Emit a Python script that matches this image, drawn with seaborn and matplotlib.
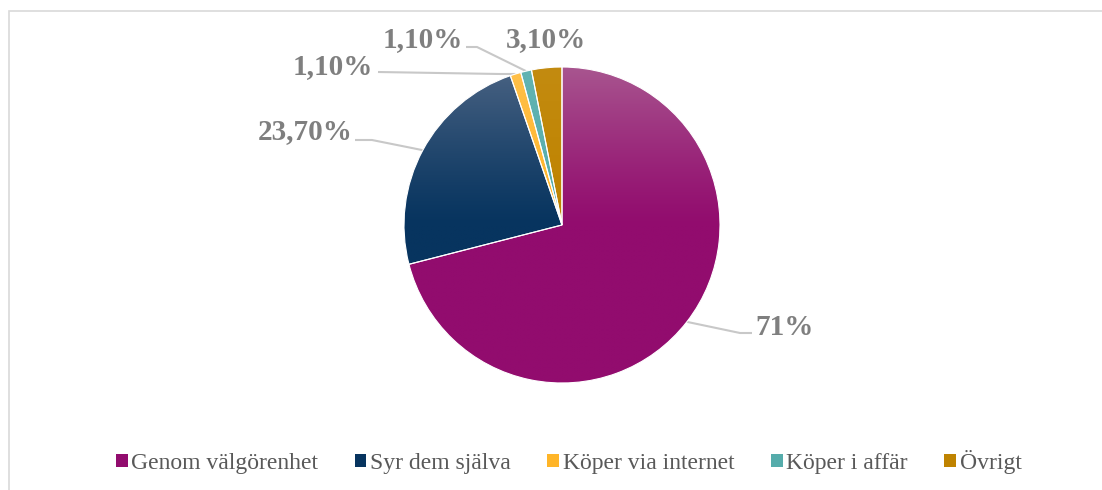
import numpy as np
import matplotlib
matplotlib.use("Agg")
import matplotlib.pyplot as plt
import matplotlib.colors as mcolors
from matplotlib.patches import Rectangle
import seaborn as sns

# data
categories = ["Genom välgörenhet", "Syr dem själva", "Köper via internet", "Köper i affär", "Övrigt"]
values = [71.0, 23.7, 1.1, 1.1, 3.1]
value_labels = ["71%", "23,70%", "1,10%", "1,10%", "3,10%"]

base_colors = ["#920C6E", "#07345F", "#FFB528", "#55ACAB", "#BF8300"]
top_colors = ["#A8558F", "#4A6383", "#FFC04A", "#62B4B3", "#C38B10"]

sns.set_theme(style="white")
plt.rcParams["font.family"] = ["Liberation Serif", "DejaVu Serif"]

W, H = 1102, 490
fig = plt.figure(figsize=(W / 100, H / 100), dpi=100)
ax = fig.add_axes([0, 0, 1, 1])

# pie centre / radius in pixels
cx, cy, R = 562, 225, 158

wedges, _ = ax.pie(values, startangle=90, counterclock=False, radius=1,
                   colors=base_colors,
                   wedgeprops=dict(edgecolor="white", linewidth=0.8))

# vertical gradient on each wedge (lighter at the top)
yy = np.linspace(1, -1, 300)
for w, c0, c1 in zip(wedges, base_colors, top_colors):
    a = np.array(mcolors.to_rgb(c0))
    b = np.array(mcolors.to_rgb(c1))
    f = np.clip(yy, 0, 1)[:, None] ** 1.2
    grad = a[None, :] * (1 - f) + b[None, :] * f
    img = np.repeat(grad[:, None, :], 2, axis=1)
    im = ax.imshow(img, extent=[-1, 1, -1, 1], aspect="auto", zorder=w.get_zorder() + 0.01,
                   interpolation="bilinear")
    im.set_clip_path(w)
    w.set_facecolor("none")
    w.set_zorder(im.get_zorder() + 0.01)

ax.set_xlim(-cx / R, (W - cx) / R)
ax.set_ylim(-(H - cy) / R, cy / R)
ax.axis("off")

# label layout (pixel positions): text anchor, elbow, line end, alignment
def px(x, y):
    return ((x - cx) / R, (cy - y) / R)

layout = [
    dict(text=(755, 327), elbow=(740, 333), end=(752, 333), ha="left"),
    dict(text=(353, 132), elbow=(372, 140), end=(355, 140), ha="right"),
    dict(text=(373, 67), elbow=(500, 74), end=(378, 72), ha="right"),
    dict(text=(463, 40), elbow=(477, 47), end=(466, 47), ha="right"),
    dict(text=(546, 40), elbow=None, end=None, ha="center"),
]

line_col = "#C8C8C8"
for w, lab, lay in zip(wedges, value_labels, layout):
    ang = np.deg2rad((w.theta1 + w.theta2) / 2)
    sx, sy = np.cos(ang), np.sin(ang)
    if lay["elbow"] is not None:
        ex, ey = px(*lay["elbow"])
        fx, fy = px(*lay["end"])
        ax.plot([sx, ex, fx], [sy, ey, fy], color=line_col, lw=1.5, zorder=1,
                solid_capstyle="butt")
    tx, ty = px(*lay["text"])
    ax.text(tx, ty, lab, ha=lay["ha"], va="center", fontsize=21,
            fontweight="bold", color="#7F7F7F")

# legend
handles = [Rectangle((0, 0), 1, 1, facecolor=c, edgecolor="none") for c in base_colors]
fig.legend(handles, categories, loc="center", bbox_to_anchor=(0.516, 1 - 462 / H),
           ncol=5, frameon=False, fontsize=17, handlelength=0.5, handleheight=0.5,
           handletextpad=0.15, columnspacing=1.55, labelcolor="#595959")

# chart area border
fig.patches.append(Rectangle((9 / W, -0.1), 1.2, 1 - 11 / H + 0.1, transform=fig.transFigure,
                             fill=False, edgecolor="#D9D9D9", lw=1.2))

fig.savefig("out.png", dpi=100)
